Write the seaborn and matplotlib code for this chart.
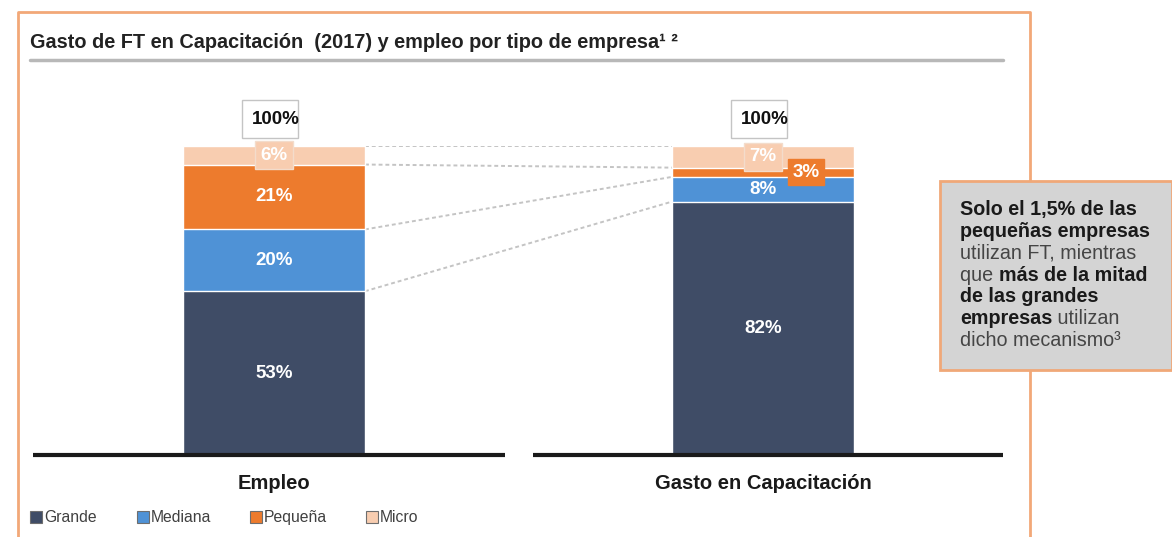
import numpy as np
import pandas as pd
import matplotlib
matplotlib.use("Agg")
import matplotlib.pyplot as plt
import seaborn as sns
from matplotlib.patches import Rectangle
from matplotlib.lines import Line2D
from matplotlib.text import Annotation

# ---------------- data ----------------
categorias = ["Empleo", "Gasto en Capacitación"]
segmentos = ["Grande", "Mediana", "Pequeña", "Micro"]
grande = [53, 82]
mediana = [20, 8]
pequena = [21, 3]
micro = [6, 7]
totales = ["100%", "100%"]
titulo = "Gasto de FT en Capacitación  (2017) y empleo por tipo de empresa¹ ²"
callout = [
    [("Solo el 1,5% de las", True)],
    [("pequeñas empresas", True)],
    [("utilizan FT, mientras", False)],
    [("que ", False), ("más de la mitad", True)],
    [("de las grandes", True)],
    [("empresas", True), (" utilizan", False)],
    [("dicho mecanismo³", False)],
]
colores = ["#3f4c66", "#4f92d6", "#ed7b2d", "#f8cdb0"]

# ---------------- style ----------------
sns.set_theme(style="white")
plt.rcParams["font.family"] = ["Liberation Sans", "DejaVu Sans"]

W, H = 1172, 537
fig = plt.figure(figsize=(W / 100, H / 100), dpi=100)
fig.patch.set_facecolor("white")

def fx(px):
    return px / W

def fy(py):
    return 1 - py / H

ax = fig.add_axes([fx(33), fy(455), 970 / W, 309 / H])
ax.patch.set_alpha(0)

vals = np.array([grande, mediana, pequena, micro], dtype=float)
cum = vals.cumsum(axis=0)
unit = 489.0  # px per category step
bar_w = 182 / unit

for i in reversed(range(len(segmentos))):
    df = pd.DataFrame({"cat": categorias, "v": cum[i]})
    sns.barplot(data=df, x="cat", y="v", color=colores[i], width=bar_w,
                saturation=1, ax=ax, zorder=2)

ax.set_xlim(-241 / unit, 1 + 240 / unit)
ax.set_ylim(0, 100)
sns.despine(ax=ax, left=True, bottom=True)
ax.set_yticks([])
ax.set_xlabel("")
ax.set_ylabel("")
ax.tick_params(axis="x", length=0, pad=14)
for t in ax.get_xticklabels():
    t.set_fontweight("bold")
    t.set_fontsize(14.5)
    t.set_color("#1a1a1a")

# baselines
ax.hlines(0, -241 / unit, 231 / unit, color="#1a1a1a", lw=3, clip_on=False, zorder=3)
ax.hlines(0, 259 / unit, 1 + 240 / unit, color="#1a1a1a", lw=3, clip_on=False, zorder=3)

# connectors
xl, xr = bar_w / 2, 1 - bar_w / 2
for i in range(len(segmentos)):
    ax.plot([xl, xr], [cum[i][0], cum[i][1]], color="#c4c4c4", lw=1.4,
            ls=(0, (2, 1.5)), zorder=1)

# segment labels
for i in range(len(segmentos)):
    for j in range(len(categorias)):
        y = cum[i][j] - vals[i][j] / 2
        x = j
        kw = {}
        if segmentos[i] == "Micro":
            kw["bbox"] = dict(boxstyle="square,pad=0.3", fc=colores[3],
                              ec="#f3dccb", lw=1)
        if segmentos[i] == "Pequeña" and vals[i][j] < 5:
            x = j + 43 / unit
            kw["bbox"] = dict(boxstyle="square,pad=0.25", fc=colores[2],
                              ec=colores[2], lw=1)
        ax.text(x, y, f"{int(vals[i][j])}%", ha="center", va="center",
                color="white", fontweight="bold", fontsize=13.5, zorder=4, **kw)

# total boxes
for j in range(len(categorias)):
    ax.add_patch(Rectangle((j - 32 / unit, 102.6), 56 / unit, 12.3,
                           fc="white", ec="#c4c4c4", lw=1, clip_on=False, zorder=3))
    ax.text(j + 2 / unit, 108.7, totales[j], ha="center", va="center",
            color="#111111", fontweight="bold", fontsize=13.5, clip_on=False,
            zorder=4)

# ---------------- frame & title ----------------
fig.add_artist(Line2D([fx(18), fx(18), fx(1030), fx(1030)],
                      [fy(545), fy(12), fy(12), fy(545)],
                      color="#f2a878", lw=2, transform=fig.transFigure))
fig.text(fx(30), fy(43), titulo, ha="left", va="center", fontsize=14.3,
         fontweight="bold", color="#222222")
fig.add_artist(Line2D([fx(30), fx(1003)], [fy(60), fy(60)], color="#b8b8b8",
                      lw=2.5, transform=fig.transFigure))

# ---------------- callout ----------------
fig.add_artist(Rectangle((fx(940), fy(370)), 232 / W, 189 / H, fc="#d4d4d4",
                         ec="#f0a878", lw=2, transform=fig.transFigure, zorder=5))
line_y = [210, 231.7, 253.4, 275.1, 296.8, 318.5, 340.2]
for k, line in enumerate(callout):
    prev = None
    for txt, bold in line:
        kw = dict(fontsize=14.2, fontweight="bold" if bold else "normal",
                  color="#1a1a1a" if bold else "#454545", zorder=6)
        if prev is None:
            prev = fig.text(fx(960), fy(line_y[k]), txt, ha="left", va="center", **kw)
        else:
            prev = fig.add_artist(Annotation(
                txt, xy=(1, 0), xycoords=prev, ha="left", va="bottom", **kw))

# ---------------- legend (swatch + label, shared baseline) ----------------
leg_x = [30, 137, 250, 366]
for px, lab, c in zip(leg_x, segmentos, colores):
    fig.add_artist(Rectangle((fx(px), fy(523)), 12 / W, 12 / H, fc=c,
                             ec="#6e6e6e", lw=0.8, transform=fig.transFigure))
    fig.text(fx(px + 14), fy(522), lab, ha="left", va="baseline",
             fontsize=11.3, color="#404040")

fig.savefig("out.png", dpi=100)
